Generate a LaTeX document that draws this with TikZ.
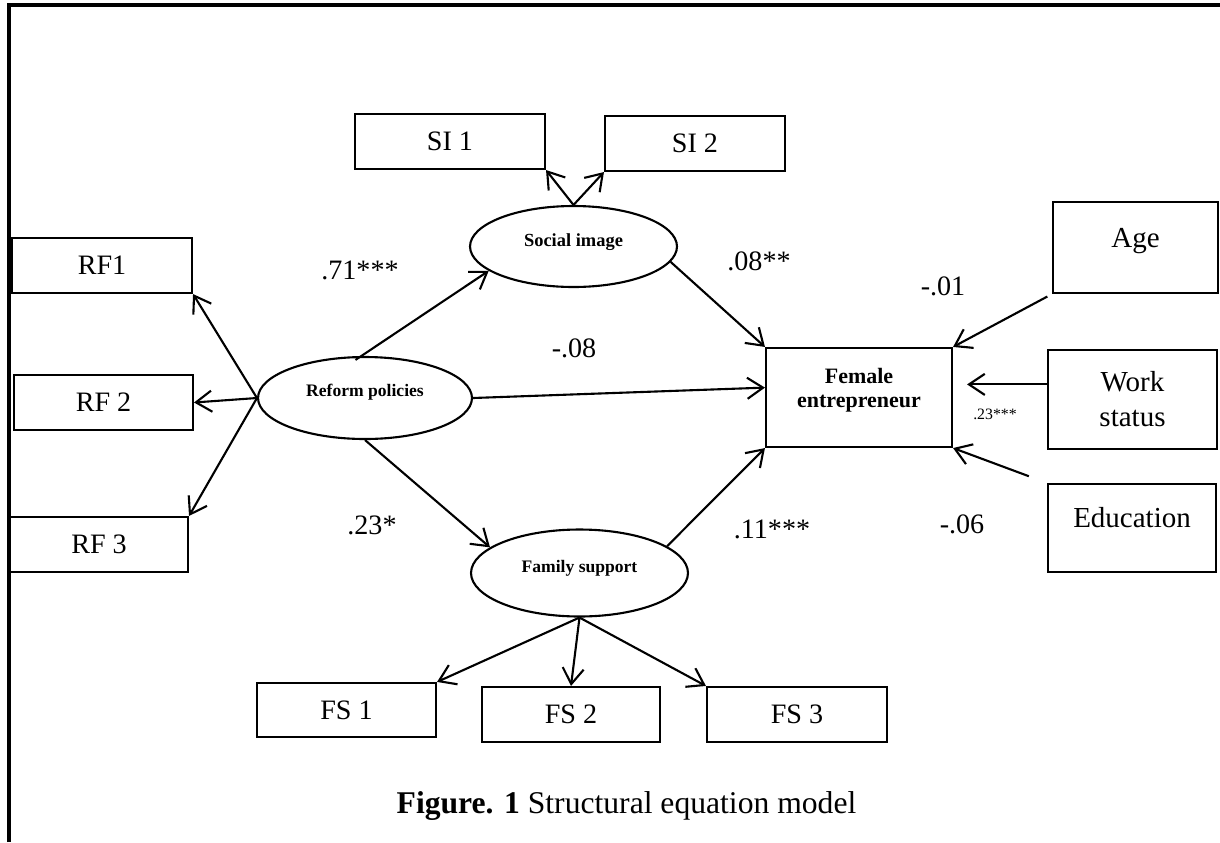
\documentclass[tikz,border=0pt]{standalone}
\usepackage{fontspec}
\setmainfont{Liberation Serif}
\usetikzlibrary{arrows.meta,shapes.geometric}

\tikzset{
    obsbox/.style={draw, line width=1.2pt, inner sep=0pt, font=\fontsize{16}{18}\selectfont},
    latent/.style={draw, ellipse, line width=1.2pt, inner sep=0pt, font=\fontsize{10}{12}\selectfont\bfseries},
    coef/.style={font=\fontsize{16}{18}\selectfont},
    link/.style={line width=1.2pt, -{Straight Barb[length=9pt, width=12pt]}}
}

\begin{document}
\begin{tikzpicture}[x=0.02cm, y=-0.02cm]
        \useasboundingbox (0, 0) rectangle (1220, 842);
        \draw[line width=2pt] (9, 842) -- (9, 5) -- (1220, 5);

        \node[obsbox, minimum width=3.8cm, minimum height=1.1cm] (si1) at (450, 141.5) {SI 1};
        \node[obsbox, minimum width=3.6cm, minimum height=1.1cm] (si2) at (695, 143.5) {SI 2};
        \node[obsbox, minimum width=3.6cm, minimum height=1.1cm] (rf1) at (102, 265.5) {RF1};
        \node[obsbox, minimum width=3.58cm, minimum height=1.1cm] (rf2) at (103.5, 402.5) {RF 2};
        \node[obsbox, minimum width=3.56cm, minimum height=1.1cm] (rf3) at (99, 544.5) {RF 3};
        \node[obsbox, minimum width=3.58cm, minimum height=1.08cm] (fs1) at (346.5, 710) {FS 1};
        \node[obsbox, minimum width=3.56cm, minimum height=1.1cm] (fs2) at (571, 714.5) {FS 2};
        \node[obsbox, minimum width=3.6cm, minimum height=1.1cm] (fs3) at (797, 714.5) {FS 3};

        \node[latent, minimum width=4.14cm, minimum height=1.62cm, text depth=7.5pt,
            font=\fontsize{10.5}{12}\selectfont\bfseries] (social) at (573.5, 246.5) {Social image};
        \node[latent, minimum width=4.28cm, minimum height=1.64cm, text depth=9pt] (reform) at (365, 398) {Reform policies};
        \node[latent, minimum width=4.34cm, minimum height=1.74cm, text depth=7pt] (family) at (579.5, 573) {Family support};

        \node[obsbox, minimum width=3.72cm, minimum height=1.98cm, align=center, text depth=11pt,
            font=\fontsize{12.5}{14}\selectfont\bfseries] (fe) at (859, 397.5) {Female\\entrepreneur};
        \node[obsbox, minimum width=3.3cm, minimum height=1.82cm, text depth=11pt,
            font=\fontsize{16.5}{20}\selectfont] (age) at (1135.5, 247.5) {Age};
        \node[obsbox, minimum width=3.38cm, minimum height=1.98cm, align=center,
            font=\fontsize{16.5}{20}\selectfont] (work) at (1132.5, 399.5) {Work\\status};
        \node[obsbox, minimum width=3.36cm, minimum height=1.76cm, text depth=12.5pt,
            font=\fontsize{16.5}{20}\selectfont] (edu) at (1132, 528) {Education};

        \draw[link] (reform.west) -- (rf1.south east);
        \draw[link] (reform.west) -- (rf2.east);
        \draw[link] (reform.west) -- (rf3.north east);
        \draw[link, shorten <=-4pt] (reform.95) -- (social.196);
        \draw[link] (reform.south) -- (family.164);
        \draw[link] (reform.east) -- (fe.174);

        \draw[link] (social.north) -- (si1.south east);
        \draw[link] (social.north) -- (si2.south west);
        \draw[link] (social.-9) -- (fe.north west);

        \draw[link] (family.17) -- (fe.south west);
        \draw[link] (family.south) -- (fs1.north east);
        \draw[link] (family.south) -- (fs2.north);
        \draw[link] (family.south) -- (fs3.north west);

        \draw[link, shorten <=3pt] (age.south west) -- (fe.north east);
        \draw[link, shorten >=8pt] (work.170) -- (work.170 -| fe.east);
        \draw[link, shorten <=11pt] (edu.north west) -- (fe.south east);

        \node[coef] (c71) at (360, 270) {.71***};
        \node[coef] (c08) at (759, 261) {.08**};
        \node[coef] (cm08) at (574, 348) {-.08};
        \node[coef] (c23) at (372, 525) {.23*};
        \node[coef] (c11) at (772, 529) {.11***};
        \node[coef] (cm01) at (943, 286) {-.01};
        \node[coef] (cm06) at (962, 524) {-.06};
        \node[font=\fontsize{9}{10}\selectfont] (c23s) at (995, 414) {.23***};

        \node[anchor=base, font=\fontsize{18}{20}\selectfont] (caption) at (626.5, 813)
            {\textbf{Figure. 1} Structural equation model};
    \end{tikzpicture}
\end{document}
